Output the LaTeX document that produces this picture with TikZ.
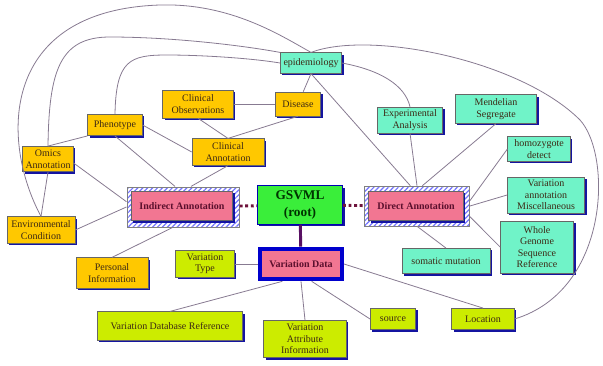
\documentclass[tikz,border=0pt]{standalone}
\usepackage{fontspec}
\setmainfont{Liberation Serif}
\usepackage{tikz}
\usetikzlibrary{positioning, shadows, patterns.meta}
\definecolor{annoorange}{RGB}{255,200,0}
\definecolor{directteal}{RGB}{112,243,200}
\definecolor{varlime}{RGB}{204,236,0}
\definecolor{corepink}{RGB}{242,118,146}
\definecolor{rootgreen}{RGB}{58,238,58}
\definecolor{shadowblue}{RGB}{20,20,160}
\definecolor{linkgray}{RGB}{135,122,145}
\definecolor{dotmaroon}{RGB}{110,20,60}
\definecolor{coretext}{RGB}{90,15,45}
\definecolor{boxtext}{RGB}{60,40,20}

\begin{document}
\begin{tikzpicture}[x=0.75pt, y=-0.75pt,
  box/.style={rectangle, draw=black!60, line width=0.4pt, align=center, inner sep=1pt, text=boxtext,
    font=\rmfamily\fontsize{7.5}{8.6}\selectfont,
    drop shadow={shadow xshift=1.6pt, shadow yshift=-1.6pt, fill=shadowblue, opacity=1}},
  indbox/.style={box, fill=annoorange},
  dirbox/.style={box, fill=directteal},
  varbox/.style={box, fill=varlime},
  hatchframe/.style={rectangle, draw=black!50, line width=0.4pt, pattern={Lines[angle=45, distance=2.6pt, line width=0.9pt]}, pattern color=blue!55},
  corebox/.style={box, fill=corepink, text=coretext, font=\rmfamily\fontsize{7.5}{8.6}\selectfont\bfseries},
  link/.style={draw=linkgray, line width=0.6pt},
  dotlink/.style={draw=dotmaroon, line width=2.2pt, dash pattern=on 2.2pt off 2pt}
]
\useasboundingbox (0,0) rectangle (603,365);

% indirect side
\node[indbox, minimum width=53pt, minimum height=21pt] (clinobs) at (198,104) {Clinical\\Observations};
\node[indbox, minimum width=34pt, minimum height=18pt] (disease) at (298,104) {Disease};
\node[indbox, minimum width=41pt, minimum height=16pt] (phenotype) at (115,125) {Phenotype};
\node[indbox, minimum width=54pt, minimum height=20pt] (clinann) at (228,152) {Clinical\\Annotation};
\node[indbox, minimum width=38pt, minimum height=19pt] (omics) at (48,159) {Omics\\Annotation};
\node[indbox, minimum width=51pt, minimum height=20pt] (env) at (41,230) {Environmental\\Condition};
\node[indbox, minimum width=54pt, minimum height=23pt] (personal) at (112,273) {Personal\\Information};

% direct side
\node[dirbox, minimum width=46pt, minimum height=15.5pt] (epi) at (311,63) {epidemiology};
\node[dirbox, minimum width=49pt, minimum height=19.5pt] (expana) at (410,120) {Experimental\\Analysis};
\node[dirbox, minimum width=61pt, minimum height=21.5pt] (mendel) at (496,109) {Mendelian\\Segregate};
\node[dirbox, minimum width=47pt, minimum height=18.5pt] (homozyg) at (539,149) {homozygote\\detect};
\node[dirbox, minimum width=58pt, minimum height=27pt] (varmisc) at (546,195) {Variation\\annotation\\Miscellaneous};
\node[dirbox, minimum width=55pt, minimum height=39pt] (wgs) at (537,247) {Whole\\Genome\\Sequence\\Reference};
\node[dirbox, minimum width=66pt, minimum height=19pt] (somatic) at (446,261) {somatic mutation};

% core
\node[hatchframe, minimum width=84pt, minimum height=30pt] (indirectframe) at (183,207) {};
\node[corebox, minimum width=76pt, minimum height=22pt] (indirect) at (182,206) {Indirect Annotation};
\node[hatchframe, minimum width=79pt, minimum height=30pt] (directframe) at (417,206) {};
\node[corebox, minimum width=71pt, minimum height=22pt] (direct) at (416,206) {Direct Annotation};
\node[box, draw=blue!70!black, fill=rootgreen, text=green!20!black, minimum width=64pt, minimum height=29pt,
  font=\rmfamily\fontsize{10}{12.5}\selectfont\bfseries] (root) at (300,205) {GSVML\\(root)};
\node[corebox, draw=blue!80!black, line width=3pt, minimum width=61.5pt, minimum height=23pt] (vardata) at (301,264) {Variation Data};

% variation side
\node[varbox, minimum width=44pt, minimum height=20pt] (vartype) at (205,264) {Variation\\Type};
\node[varbox, minimum width=109pt, minimum height=21.5pt] (vdbref) at (170,326) {Variation Database Reference};
\node[varbox, minimum width=62pt, minimum height=28pt] (vattr) at (305,339) {Variation\\Attribute\\Information};
\node[varbox, minimum width=34pt, minimum height=16pt] (source) at (393,319) {source};
\node[varbox, minimum width=47pt, minimum height=16pt] (location) at (483,319) {Location};

% links
\draw[link] (clinobs) -- (disease);
\draw[link] (clinobs.south) -- (clinann.north);
\draw[link] (disease.south) -- (clinann.north);
\draw[link] (phenotype.east) -- (clinann.west);
\draw[link] (omics.north) -- (phenotype.south west);
\draw[link] (omics.south) -- (env.north);
\draw[link] ([yshift=-3pt]omics.east) -- ([yshift=4pt]indirectframe.west);
\draw[link] (env.east) -- (indirectframe.west);
\draw[link] (phenotype.south) -- ([xshift=-6pt]indirectframe.north);
\draw[link] (clinann.south) -- ([xshift=6pt]indirectframe.north);
\draw[link] (personal.north) -- ([xshift=-8pt]indirectframe.south);
\draw[link] (epi.south) -- (disease);
\draw[link] (epi.south) -- ([xshift=-5pt]directframe.north);
\draw[link] (expana.south) -- (directframe.north);
\draw[link] (mendel.south) -- ([xshift=4pt]directframe.north);
\draw[link] (homozyg.west) -- ([yshift=4pt]directframe.east);
\draw[link] (directframe.east) -- (varmisc.west);
\draw[link] ([yshift=-8pt]directframe.east) -- (wgs.west);
\draw[link] (directframe.south) -- (somatic.north);
\draw[link] (vartype) -- (vardata);
\draw[link] ([xshift=-14pt]vardata.south) -- (vdbref.north);
\draw[link] (vardata.south) -- (vattr.north);
\draw[link] ([xshift=8pt]vardata.south) -- (source.west);
\draw[link] (vardata.east) -- (location.north);
\draw[link] (epi.east) .. controls (380,70) and (405,85) .. (expana.north);
\draw[link] (env.north) .. controls (0,140) and (0,10) .. (160,5) .. controls (230,3) and (280,35) .. (epi.north);
\draw[link] (epi.north) .. controls (370,30) and (520,60) .. (580,120) .. controls (612,155) and (610,290) .. (location.east);
\draw[link] (omics.north) .. controls (49,70) and (60,37) .. (110,37) .. controls (170,37) and (240,45) .. (epi.north west);
\draw[link] (phenotype.north) .. controls (116,60) and (130,55) .. (167,55) .. controls (200,55) and (250,58) .. (epi.west);
\draw[dotlink] (indirectframe) -- (root);
\draw[dotlink] (root) -- (directframe);
\draw[draw=dotmaroon!80!blue, line width=2.2pt] (root) -- (vardata);
\end{tikzpicture}
\end{document}
